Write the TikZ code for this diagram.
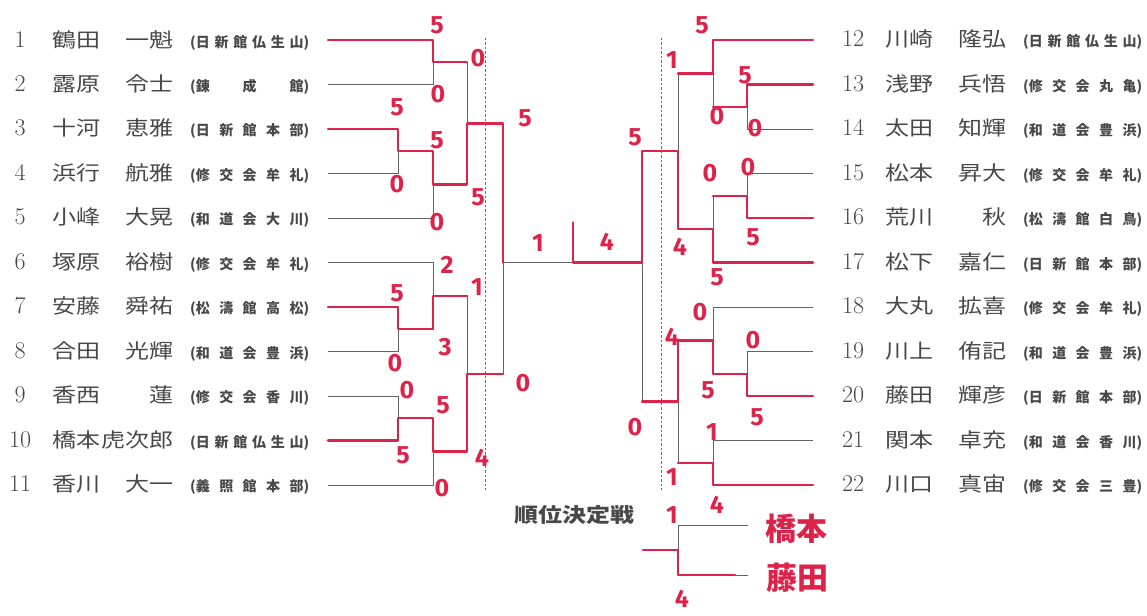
\documentclass[tikz,border=0pt]{standalone}
\usepackage{fontspec}
\newfontfamily\jp{Noto Sans CJK JP}[FakeStretch=1.2]
\newfontfamily\jpclub{Noto Sans CJK JP}
\newfontfamily\hand{Fira Sans}
\definecolor{ink}{RGB}{72,72,72}
\definecolor{pen}{RGB}{222,35,75}
\newcommand{\entry}[4]{\makebox[24pt]{\fontsize{24}{24}\selectfont #1}\hspace{20pt}%
  \hbox to 121pt{\jp\fontsize{20}{20}\selectfont #2\hfill #3}\hspace{17pt}%
  \makebox[119pt][s]{\jpclub\bfseries\fontsize{14}{14}\selectfont (#4)}}

\begin{document}
\begin{tikzpicture}[x=1pt,y=-1pt,
		player/.style={anchor=west,inner sep=0pt,text=ink},
		line/.style={draw=ink!85,line width=0.9pt},
		win/.style={draw=pen,line width=2.4pt,line cap=round,line join=round},
		score/.style={inner sep=0pt,text=pen,font=\hand\bfseries\fontsize{25}{25}\selectfont},
		guide/.style={draw=ink!80,line width=0.9pt,dash pattern=on 2.5pt off 2pt}]
		\useasboundingbox (0,0) rectangle (1147,615);

		% left side
		\draw (8,40) node [player] (p1) {\entry{1}{鶴田}{一魁}{日 新 館 仏 生 山}} (328,40) coordinate (a1);
		\draw (8,84.5) node [player] (p2) {\entry{2}{露原}{令士}{錬 成 館}} (328,84.5) coordinate (a2);
		\draw (8,129) node [player] (p3) {\entry{3}{十河}{恵雅}{日 新 館 本 部}} (328,129) coordinate (a3);
		\draw (8,173.5) node [player] (p4) {\entry{4}{浜行}{航雅}{修 交 会 牟 礼}} (328,173.5) coordinate (a4);
		\draw (8,218) node [player] (p5) {\entry{5}{小峰}{大晃}{和 道 会 大 川}} (328,218) coordinate (a5);
		\draw (8,262.5) node [player] (p6) {\entry{6}{塚原}{裕樹}{修 交 会 牟 礼}} (328,262.5) coordinate (a6);
		\draw (8,307) node [player] (p7) {\entry{7}{安藤}{舜祐}{松 濤 館 高 松}} (328,307) coordinate (a7);
		\draw (8,351.5) node [player] (p8) {\entry{8}{合田}{光輝}{和 道 会 豊 浜}} (328,351.5) coordinate (a8);
		\draw (8,396) node [player] (p9) {\entry{9}{香西}{蓮}{修 交 会 香 川}} (328,396) coordinate (a9);
		\draw (8,440.5) node [player] (p10) {\entry{10}{橋本}{虎次郎}{日 新 館 仏 生 山}} (328,440.5) coordinate (a10);
		\draw (8,485) node [player] (p11) {\entry{11}{香川}{大一}{義 照 館 本 部}} (328,485) coordinate (a11);

		% right side
		\draw (841,40) node [player] (p12) {\entry{12}{川崎}{隆弘}{日 新 館 仏 生 山}} (813,40) coordinate (a12);
		\draw (841,84.5) node [player] (p13) {\entry{13}{浅野}{兵悟}{修 交 会 丸 亀}} (813,84.5) coordinate (a13);
		\draw (841,129) node [player] (p14) {\entry{14}{太田}{知輝}{和 道 会 豊 浜}} (813,129) coordinate (a14);
		\draw (841,173.5) node [player] (p15) {\entry{15}{松本}{昇大}{修 交 会 牟 礼}} (813,173.5) coordinate (a15);
		\draw (841,218) node [player] (p16) {\entry{16}{荒川}{秋}{松 濤 館 白 鳥}} (813,218) coordinate (a16);
		\draw (841,262.5) node [player] (p17) {\entry{17}{松下}{嘉仁}{日 新 館 本 部}} (813,262.5) coordinate (a17);
		\draw (841,307) node [player] (p18) {\entry{18}{大丸}{拡喜}{修 交 会 牟 礼}} (813,307) coordinate (a18);
		\draw (841,351.5) node [player] (p19) {\entry{19}{川上}{侑記}{和 道 会 豊 浜}} (813,351.5) coordinate (a19);
		\draw (841,396) node [player] (p20) {\entry{20}{藤田}{輝彦}{日 新 館 本 部}} (813,396) coordinate (a20);
		\draw (841,440.5) node [player] (p21) {\entry{21}{関本}{卓充}{和 道 会 香 川}} (813,440.5) coordinate (a21);
		\draw (841,485) node [player] (p22) {\entry{22}{川口}{真宙}{修 交 会 三 豊}} (813,485) coordinate (a22);

		% bouts
		\coordinate (g12) at (433,62.25);
		\coordinate (g34) at (398,151.25);
		\coordinate (g345) at (433,184.6);
		\coordinate (g15) at (467,123.4);
		\coordinate (g78) at (398,329.25);
		\coordinate (g68) at (433,295.9);
		\coordinate (g910) at (398,418.25);
		\coordinate (g911) at (433,451.6);
		\coordinate (g611) at (467,373.75);
		\coordinate (fl) at (503,262.5);
		\coordinate (h1314) at (747,106.75);
		\coordinate (h1214) at (713,73.4);
		\coordinate (h1516) at (747,195.75);
		\coordinate (h1517) at (713,229.1);
		\coordinate (h1217) at (678,151.25);
		\coordinate (h1920) at (747,373.75);
		\coordinate (h1820) at (713,340.4);
		\coordinate (h2122) at (713,462.75);
		\coordinate (h1822) at (678,401.6);
		\coordinate (fr) at (642,262.5);
		\coordinate (mid) at (573,262.5);
		\coordinate (t) at (678,550);
		\coordinate (t1) at (748,525);
		\coordinate (t2) at (748,575);

		\draw[guide] (485,38) -- (485,490);
		\draw[guide] (661,38) -- (661,490);

		\draw[line]
			(a1) -| (g12) (a2) -| (g12)
			(a3) -| (g34) (a4) -| (g34) (g34) -| (g345) (a5) -| (g345)
			(g12) -| (g15) (g345) -| (g15)
			(a6) -| (g68) (a7) -| (g78) (a8) -| (g78) (g78) -| (g68)
			(a9) -| (g910) (a10) -| (g910) (g910) -| (g911) (a11) -| (g911)
			(g68) -| (g611) (g911) -| (g611)
			(g15) -| (fl) (g611) -| (fl)
			(fl) -- (fr)
			(a12) -| (h1214) (a13) -| (h1314) (a14) -| (h1314) (h1314) -| (h1214)
			(a15) -| (h1516) (a16) -| (h1516) (h1516) -| (h1517) (a17) -| (h1517)
			(h1214) -| (h1217) (h1517) -| (h1217)
			(a18) -| (h1820) (a19) -| (h1920) (a20) -| (h1920) (h1920) -| (h1820)
			(a21) -| (h2122) (a22) -| (h2122)
			(h1820) -| (h1822) (h2122) -| (h1822)
			(h1217) -| (fr) (h1822) -| (fr)
			(t1) -| (t) (t2) -| (t) (t) -- +(-35,0)
		;

		% winners
		\draw[win] (a1) -| (g12) -- +(34,0);
		\draw[win] (a3) -| (g34) -| (g345) -| (g15) -| (fl);
		\draw[win] (a7) -| (g78) -| (g68) -- +(34,0);
		\draw[win] (a10) -| (g910) -| (g911) -| (g611) -- +(36,0);
		\draw[win] (a12) -| (h1214) -- +(-35,0);
		\draw[win] (a13) -| (h1314) -- +(-34,0);
		\draw[win] (a16) -| (h1516) -- +(-34,0);
		\draw[win] (a17) -| (h1517) -| (h1217) -| (fr) -- (mid) -- +(0,-40);
		\draw[win] (a20) -| (h1920) -| (h1820) -| (h1822) -- +(-36,0);
		\draw[win] (a22) -| (h2122) -- +(-35,0);
		\draw[win] ([xshift=-13pt]t2) -| (t) -- +(-35,0);

		% scores
		\draw (437,25) node [score] (s1) {5};
		\draw (438,94) node [score] (s2) {0};
		\draw (397,107) node [score] (s3) {5};
		\draw (397,184) node [score] (s4) {0};
		\draw (437,140) node [score] (s5) {5};
		\draw (437,222) node [score] (s6) {0};
		\draw (478,58) node [score] (s7) {0};
		\draw (478,197) node [score] (s8) {5};
		\draw (525,118) node [score] (s9) {5};
		\draw (523,383) node [score] (s10) {0};
		\draw (447,265) node [score] (s11) {2};
		\draw (397,293) node [score] (s12) {5};
		\draw (395,363) node [score] (s13) {0};
		\draw (445,347) node [score] (s14) {3};
		\draw (477,287) node [score] (s15) {1};
		\draw (407,390) node [score] (s16) {0};
		\draw (403,455) node [score] (s17) {5};
		\draw (443,405) node [score] (s18) {5};
		\draw (442,488) node [score] (s19) {0};
		\draw (482,458) node [score] (s20) {4};
		\draw (538,243) node [score] (s21) {1};
		\draw (607,242) node [score] (s22) {4};
		\draw (635,137) node [score] (s23) {5};
		\draw (635,427) node [score] (s24) {0};
		\draw (672,60) node [score] (s25) {1};
		\draw (702,25) node [score] (s26) {5};
		\draw (745,75) node [score] (s27) {5};
		\draw (717,116) node [score] (s28) {0};
		\draw (755,128) node [score] (s29) {0};
		\draw (710,173) node [score] (s30) {0};
		\draw (748,167) node [score] (s31) {0};
		\draw (753,237) node [score] (s32) {5};
		\draw (680,247) node [score] (s33) {4};
		\draw (717,277) node [score] (s34) {5};
		\draw (700,312) node [score] (s35) {0};
		\draw (672,337) node [score] (s36) {4};
		\draw (753,340) node [score] (s37) {0};
		\draw (708,390) node [score] (s38) {5};
		\draw (757,417) node [score] (s39) {5};
		\draw (712,432) node [score] (s40) {1};
		\draw (672,477) node [score] (s41) {1};
		\draw (717,505) node [score] (s42) {4};
		\draw (672,515) node [score] (s43) {1};
		\draw (682,599) node [score] (s44) {4};

		% third place
		\draw (574,515) node [inner sep=0pt,text=ink,font=\jp\bfseries\fontsize{20}{20}\selectfont] (title) {順位決定戦};
		\draw (796,529) node [inner sep=0pt,text=pen,font=\jpclub\bfseries\fontsize{31}{31}\selectfont] (n1) {橋本};
		\draw (797,578) node [inner sep=0pt,text=pen,font=\jpclub\bfseries\fontsize{31}{31}\selectfont] (n2) {藤田};
	\end{tikzpicture}
\end{document}
